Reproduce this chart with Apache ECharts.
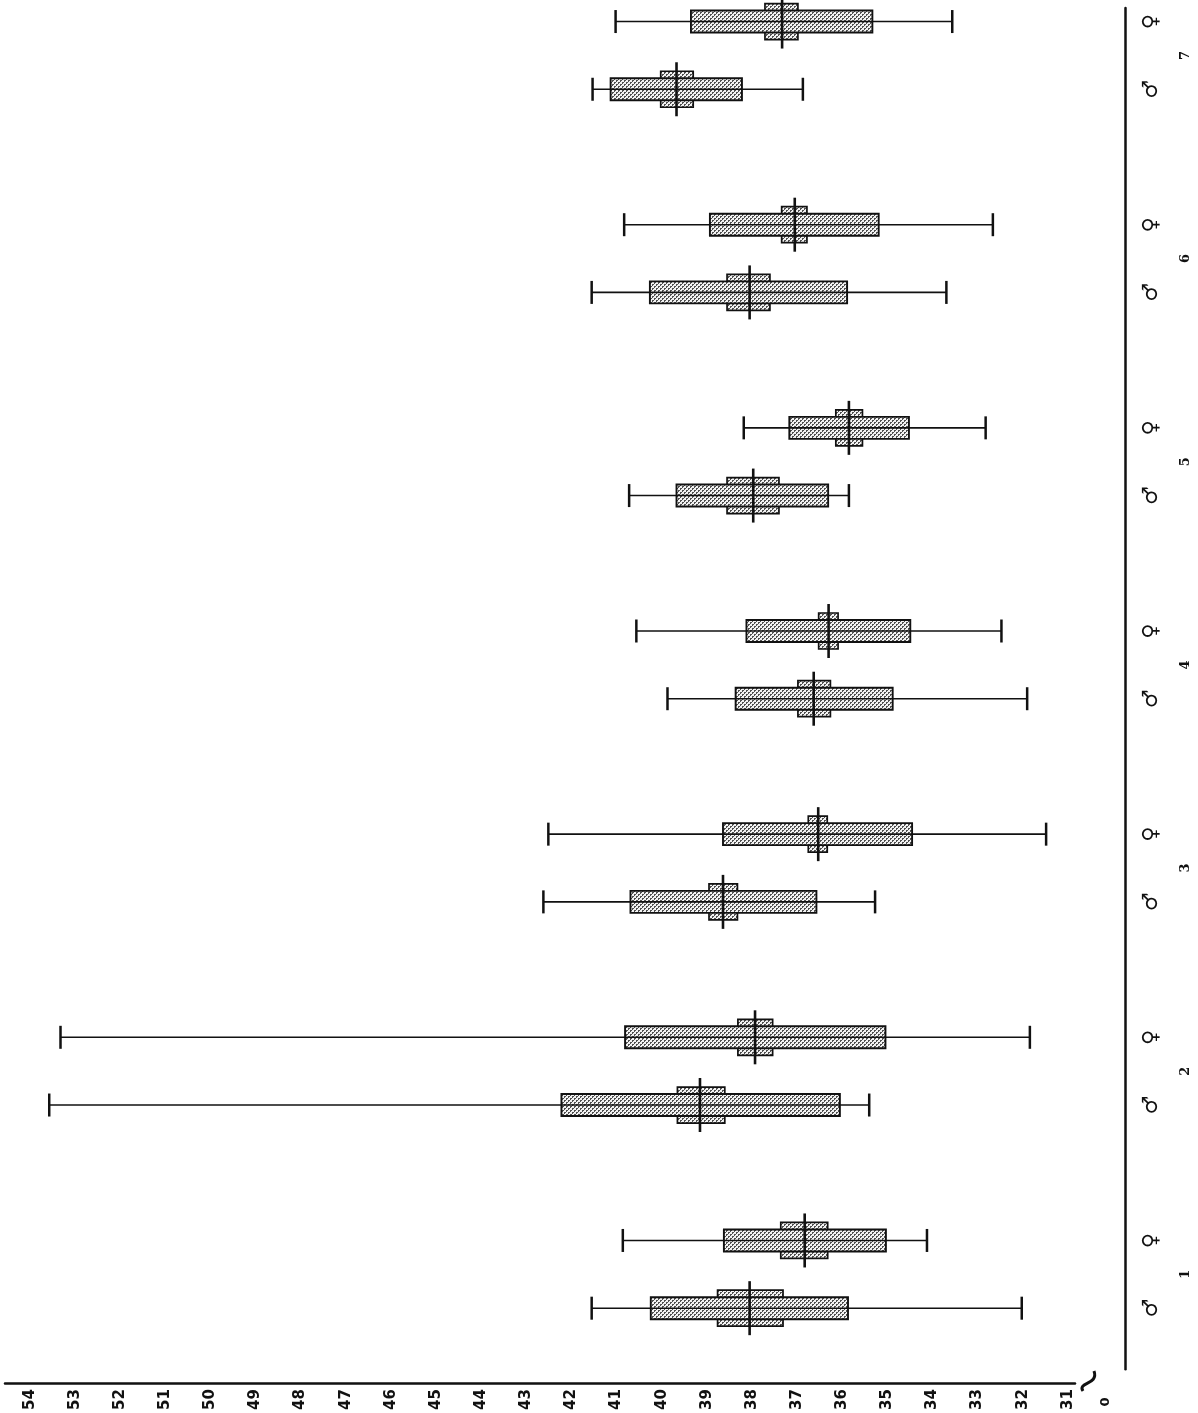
<!DOCTYPE html>
<html><head><meta charset="utf-8">
<script src="https://cdn.jsdelivr.net/npm/echarts@6/dist/echarts.min.js"></script>
<style>html,body{margin:0;padding:0;background:#fff}#c{width:1198px;height:1413px}</style>
</head><body><div id="c"></div>
<script>
// ---- data ----
const groups = ['1','2','3','4','5','6','7'];
const sexes = ['♂','♀'];
const valueTicks = [31,32,33,34,35,36,37,38,39,40,41,42,43,44,45,46,47,48,49,50,51,52,53,54];

const maleWhiskerHigh = [41.55, 53.57, 42.62, 39.87, 40.72, 41.55, 41.53];
const maleBoxHigh     = [40.24, 42.22, 40.69, 38.36, 39.67, 40.26, 41.13];
const maleNotchHigh   = [38.76, 39.65, 38.95, 36.98, 38.55, 38.55, 40.02];
const maleMedian      = [38.05, 39.15, 38.64, 36.63, 37.97, 38.05, 39.67];
const maleNotchLow    = [37.31, 38.60, 38.32, 36.26, 37.40, 37.60, 39.30];
const maleBoxLow      = [35.87, 36.05, 36.57, 34.88, 36.31, 35.89, 38.22];
const maleWhiskerLow  = [32.02, 35.40, 35.27, 31.90, 35.85, 33.69, 36.87];

const femaleWhiskerHigh = [40.86, 53.32, 42.51, 40.56, 38.18, 40.83, 41.02];
const femaleBoxHigh     = [38.62, 40.81, 38.64, 38.12, 37.17, 38.93, 39.35];
const femaleNotchHigh   = [37.36, 38.31, 36.75, 36.52, 36.14, 37.34, 37.71];
const femaleMedian      = [36.83, 37.93, 36.53, 36.30, 35.85, 37.05, 37.33];
const femaleNotchLow    = [36.32, 37.54, 36.33, 36.09, 35.55, 36.78, 36.98];
const femaleBoxLow      = [35.03, 35.04, 34.45, 34.49, 34.52, 35.19, 35.33];
const femaleWhiskerLow  = [34.12, 31.84, 31.48, 32.47, 32.82, 32.66, 33.56];

// ---- build ----
const SLOTS = 3; // male, female, gap
const rows = [];
groups.forEach((g, i) => {
  rows.push([i*SLOTS + 0, maleWhiskerHigh[i], maleBoxHigh[i], maleNotchHigh[i], maleMedian[i], maleNotchLow[i], maleBoxLow[i], maleWhiskerLow[i]]);
  rows.push([i*SLOTS + 1, femaleWhiskerHigh[i], femaleBoxHigh[i], femaleNotchHigh[i], femaleMedian[i], femaleNotchLow[i], femaleBoxLow[i], femaleWhiskerLow[i]]);
});
const sexPositions = [];
const groupPositions = [];
groups.forEach((g, i) => { sexPositions.push(i*SLOTS, i*SLOTS + 1); groupPositions.push(i*SLOTS + 0.5); });

// dotted fill pattern
const pc = document.createElement('canvas');
pc.width = 4; pc.height = 4;
const px = pc.getContext('2d');
px.fillStyle = '#f2f2f2'; px.fillRect(0,0,4,4);
px.fillStyle = '#505050';
[[0,0],[1,0],[0,1],[2,2],[3,2],[2,3]].forEach(([a,b]) => px.fillRect(a,b,1,1));
const dotFill = {image: pc, repeat: 'repeat'};

function renderItem(params, api) {
  const p = api.value(0);
  const X = v => api.coord([v, p])[0];
  const yc = api.coord([api.value(4), p])[1];
  const wHi = X(api.value(1)), bHi = X(api.value(2)), nHi = X(api.value(3)), med = X(api.value(4));
  const nLo = X(api.value(5)), bLo = X(api.value(6)), wLo = X(api.value(7));
  const hb = 11, hn = 18, hm = 27, hc = 11.5;
  const ink = '#111';
  return {
    type: 'group',
    children: [
      {type:'line', shape:{x1:wHi, y1:yc, x2:wLo, y2:yc}, style:{stroke:ink, lineWidth:1.6}},
      {type:'rect', shape:{x:Math.min(nHi,nLo), y:yc-hn, width:Math.abs(nLo-nHi), height:2*hn}, style:{fill:dotFill, stroke:ink, lineWidth:1.7}},
      {type:'rect', shape:{x:Math.min(bHi,bLo), y:yc-hb, width:Math.abs(bLo-bHi), height:2*hb}, style:{fill:dotFill, stroke:ink, lineWidth:1.9}},
      {type:'line', shape:{x1:bHi, y1:yc, x2:bLo, y2:yc}, style:{stroke:ink, lineWidth:1.6}},
      {type:'line', shape:{x1:wHi, y1:yc-hc, x2:wHi, y2:yc+hc}, style:{stroke:ink, lineWidth:2.5}},
      {type:'line', shape:{x1:wLo, y1:yc-hc, x2:wLo, y2:yc+hc}, style:{stroke:ink, lineWidth:2.5}},
      {type:'line', shape:{x1:med, y1:yc-hm, x2:med, y2:yc+hm}, style:{stroke:ink, lineWidth:2.6}}
    ]
  };
}

const chart = echarts.init(document.getElementById('c'), null, {renderer:'canvas'});
chart.setOption({
  animation: false,
  backgroundColor: '#fff',
  grid: {left: 5, right: 123, top: 8, bottom: 42},
  xAxis: {
    type: 'value', min: 30.84, max: 54.55, inverse: true, offset: 14,
    axisLine: {show: true, onZero: false, lineStyle: {color: '#111', width: 2.5}},
    axisTick: {show: false}, splitLine: {show: false},
    axisLabel: {customValues: valueTicks, rotate: 90, margin: 6, fontSize: 15, fontWeight: 'bold', color: '#111', fontFamily: 'DejaVu Sans'}
  },
  yAxis: [
    {
      type: 'value', position: 'right', offset: 50, min: -0.9, max: 19.2,
      axisLine: {show: true, onZero: false, lineStyle: {color: '#111', width: 2.5}},
      axisTick: {show: false}, splitLine: {show: false},
      axisLabel: {customValues: sexPositions, formatter: v => sexes[Math.round(v) % SLOTS], rotate: 90, margin: 16, fontSize: 21, fontWeight: 'bold', color: '#111', fontFamily: 'DejaVu Sans'}
    },
    {
      type: 'value', position: 'right', offset: 50, min: -0.9, max: 19.2,
      axisLine: {show: false}, axisTick: {show: false}, splitLine: {show: false},
      axisLabel: {customValues: groupPositions, formatter: v => groups[Math.floor(v / SLOTS)], rotate: 90, margin: 54, fontSize: 13, fontWeight: 'bold', color: '#111', fontFamily: 'DejaVu Serif'}
    }
  ],
  graphic: [
    {type: 'bezierCurve', shape: {x1: 1083, y1: 1391, cpx1: 1077, cpy1: 1382, cpx2: 1099, cpy2: 1385, x2: 1094, y2: 1371}, style: {stroke: '#111', lineWidth: 3, fill: null}},
    {type: 'text', x: 1099, y: 1402, rotation: Math.PI/2, style: {text: '0', fontSize: 13, fontWeight: 'bold', fill: '#111', fontFamily: 'DejaVu Sans', align: 'center', verticalAlign: 'top'}}
  ],
  series: [{
    type: 'custom', renderItem: renderItem, data: rows,
    encode: {x: [1,2,3,4,5,6,7], y: 0}, clip: false
  }]
});
</script></body></html>
